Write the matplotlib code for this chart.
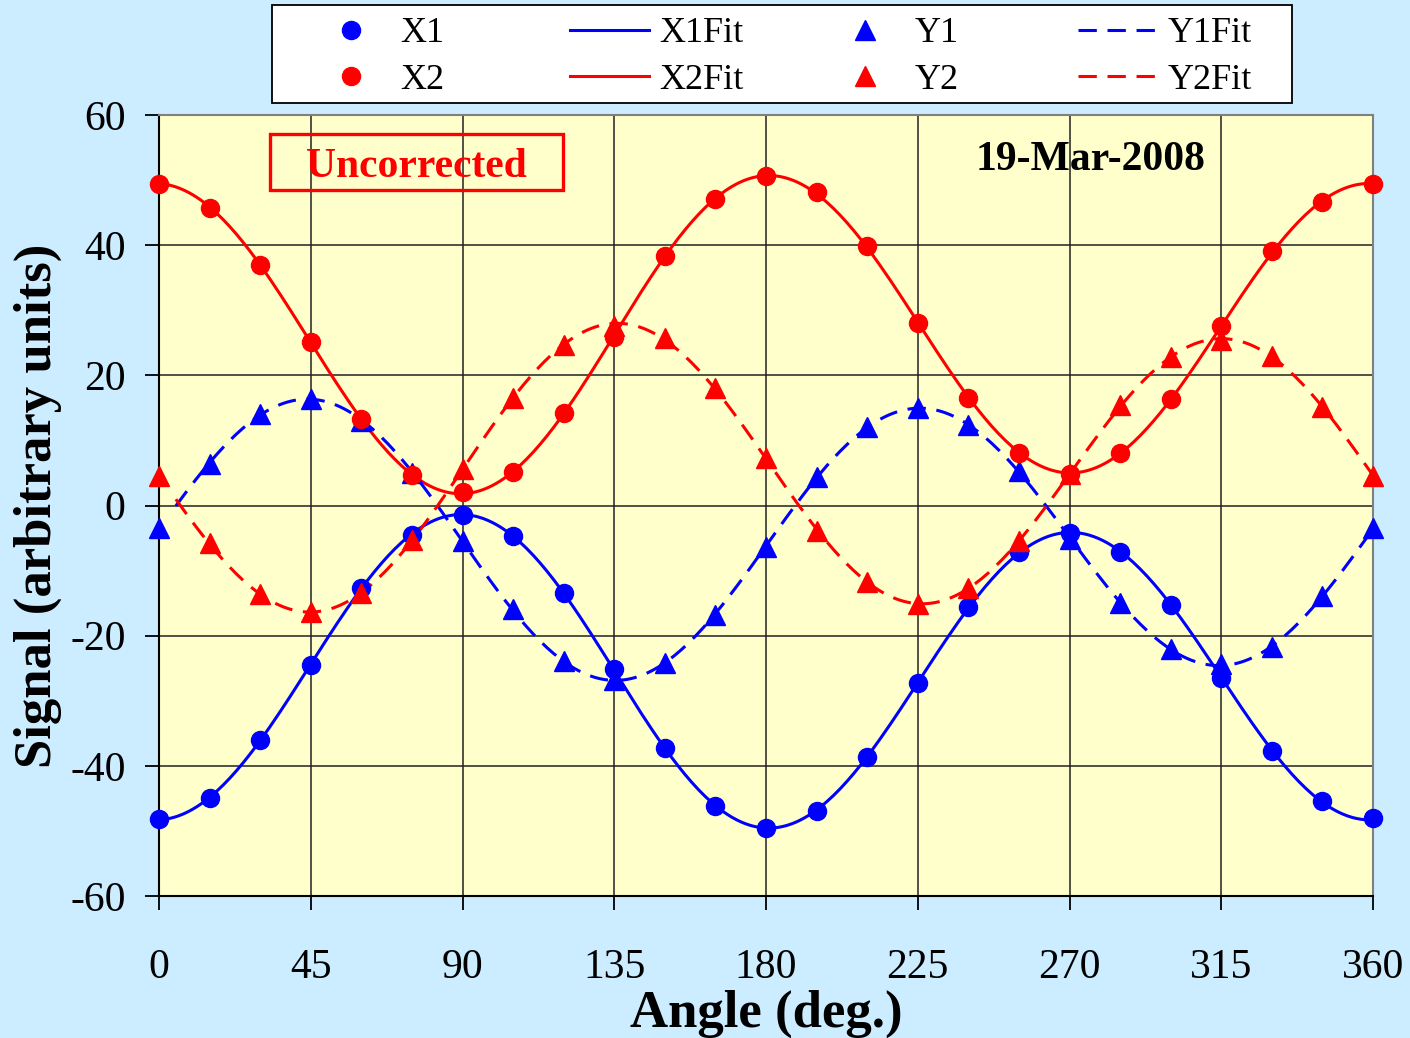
import numpy as np
import matplotlib
matplotlib.use('Agg')
import matplotlib.pyplot as plt
from matplotlib.patches import Rectangle

plt.rcParams['font.family'] = ['Liberation Serif', 'DejaVu Serif']
plt.rcParams['axes.unicode_minus'] = False

# Angles of the measured points (deg.)
angulos = [0, 15, 30, 45, 60, 75, 90, 105, 120, 135, 150, 165, 180,
           195, 210, 225, 240, 255, 270, 285, 300, 315, 330, 345, 360]

x1 = [-48.2, -44.9, -36.0, -24.5, -12.7, -4.5, -1.5, -4.7, -13.4, -25.1, -37.3, -46.2, -49.6,
      -46.9, -38.6, -27.3, -15.6, -7.1, -4.2, -7.1, -15.3, -26.5, -37.7, -45.4, -48.0]
x2 = [49.4, 45.7, 37.0, 25.1, 13.3, 4.7, 2.1, 5.1, 14.2, 25.9, 38.3, 47.1, 50.6,
      48.2, 39.9, 28.0, 16.5, 8.1, 4.8, 8.1, 16.4, 27.6, 39.1, 46.6, 49.4]
y1 = [-3.5, 6.4, 14.1, 16.4, 13.0, 5.0, -5.5, -15.9, -23.9, -26.8, -24.2, -16.8, -6.4,
      4.4, 12.1, 15.0, 12.4, 5.3, -5.1, -15.0, -22.0, -24.4, -21.8, -13.9, -3.5]
y2 = [4.5, -5.8, -13.6, -16.4, -13.4, -5.3, 5.6, 16.5, 24.7, 27.6, 25.7, 18.1, 7.3,
      -3.9, -11.8, -15.1, -12.7, -5.5, 4.8, 15.4, 22.8, 25.4, 23.0, 15.1, 4.5]

AZUL = '#0000FF'
VERMELHO = '#FF0000'
W, H = 1410, 1038


# Least-squares fit with harmonics up to 2*theta
def ajuste(angs, valores, grade):
    t = np.radians(np.asarray(angs[:-1], dtype=float))
    v = np.asarray(valores[:-1], dtype=float)
    A = np.column_stack([np.ones_like(t), np.cos(t), np.sin(t), np.cos(2 * t), np.sin(2 * t)])
    coef, *_ = np.linalg.lstsq(A, v, rcond=None)
    g = np.radians(grade)
    B = np.column_stack([np.ones_like(g), np.cos(g), np.sin(g), np.cos(2 * g), np.sin(2 * g)])
    return B @ coef


grade_x = np.linspace(0, 360, 361)
grade_y = np.linspace(5, 360, 356)

fig = plt.figure(figsize=(W / 100, H / 100), dpi=100, facecolor='#CCECFF')
ax = fig.add_axes([159 / W, 1 - 896 / H, 1214 / W, 781 / H])
ax.set_facecolor('#FFFFCC')

lw = 2.2
ms_c = 13
ms_t = 14
tracejado = (6, 3.5)

h_x1, = ax.plot(angulos, x1, 'o', color=AZUL, ms=ms_c, clip_on=False, zorder=5, label='X1')
h_x1f, = ax.plot(grade_x, ajuste(angulos, x1, grade_x), '-', color=AZUL, lw=lw, zorder=4, label='X1Fit')
h_y1, = ax.plot(angulos, y1, '^', color=AZUL, ms=ms_t, clip_on=False, zorder=5, label='Y1')
h_y1f, = ax.plot(grade_y, ajuste(angulos, y1, grade_y), '--', color=AZUL, lw=lw, dashes=tracejado,
                 zorder=4, label='Y1Fit')
h_x2, = ax.plot(angulos, x2, 'o', color=VERMELHO, ms=ms_c, clip_on=False, zorder=5, label='X2')
h_x2f, = ax.plot(grade_x, ajuste(angulos, x2, grade_x), '-', color=VERMELHO, lw=lw, zorder=4, label='X2Fit')
h_y2, = ax.plot(angulos, y2, '^', color=VERMELHO, ms=ms_t, clip_on=False, zorder=5, label='Y2')
h_y2f, = ax.plot(grade_y, ajuste(angulos, y2, grade_y), '--', color=VERMELHO, lw=lw, dashes=tracejado,
                 zorder=4, label='Y2Fit')

ax.set_xlim(0, 360)
ax.set_ylim(-60, 60)
ax.set_xticks(np.arange(0, 361, 45))
ax.set_yticks(np.arange(-60, 61, 20))
ax.grid(True, color='#202020', lw=1.1)
ax.set_axisbelow(True)

for lado in ['left', 'bottom']:
    ax.spines[lado].set_color('black')
    ax.spines[lado].set_linewidth(1.5)
for lado in ['top', 'right']:
    ax.spines[lado].set_color('#808080')
    ax.spines[lado].set_linewidth(1.5)

ax.tick_params(axis='x', direction='out', length=10, width=1.3, labelsize=30, pad=28)
ax.tick_params(axis='y', direction='out', length=10, width=1.3, labelsize=30, pad=14)

ax.set_xlabel('Angle (deg.)', fontsize=38, fontweight='bold', labelpad=1.5)
ax.set_ylabel('Signal (arbitrary units)', fontsize=38, fontweight='bold', labelpad=6)

# Caixa "Uncorrected"
ax.add_patch(Rectangle((111 / 1214, 706 / 781), 293 / 1214, 56 / 781, transform=ax.transAxes,
                       fill=False, ec=VERMELHO, lw=2.4, zorder=6))
ax.text(257 / 1214, 729 / 781, 'Uncorrected', transform=ax.transAxes, fontsize=30, fontweight='bold',
        color=VERMELHO, ha='center', va='center', zorder=6)
ax.text(0.767, 0.942, '19-Mar-2008', transform=ax.transAxes, fontsize=30, fontweight='bold',
        color='black', ha='center', va='center')

# Legenda: quatro colunas com espaçamento uniforme, dentro de uma moldura
fig.add_artist(Rectangle((272 / W, 1 - 103 / H), 1020 / W, 98 / H, transform=fig.transFigure,
                         fc='white', ec='black', lw=1.3, zorder=1))
colunas = [(h_x1, h_x2), (h_x1f, h_x2f), (h_y1, h_y2), (h_y1f, h_y2f)]
inicios = [311, 570, 825, 1078]
for (ha_, hb_), x0 in zip(colunas, inicios):
    leg = fig.legend(handles=[ha_, hb_], labels=[ha_.get_label(), hb_.get_label()],
                     loc='upper left', bbox_to_anchor=(x0 / W, 1 - 17 / H), frameon=False,
                     fontsize=26, handlelength=2.2, handletextpad=0.28, borderaxespad=0,
                     borderpad=0, labelspacing=0.36)
    leg.set_zorder(2)

fig.savefig('out.png', dpi=100, facecolor=fig.get_facecolor())
